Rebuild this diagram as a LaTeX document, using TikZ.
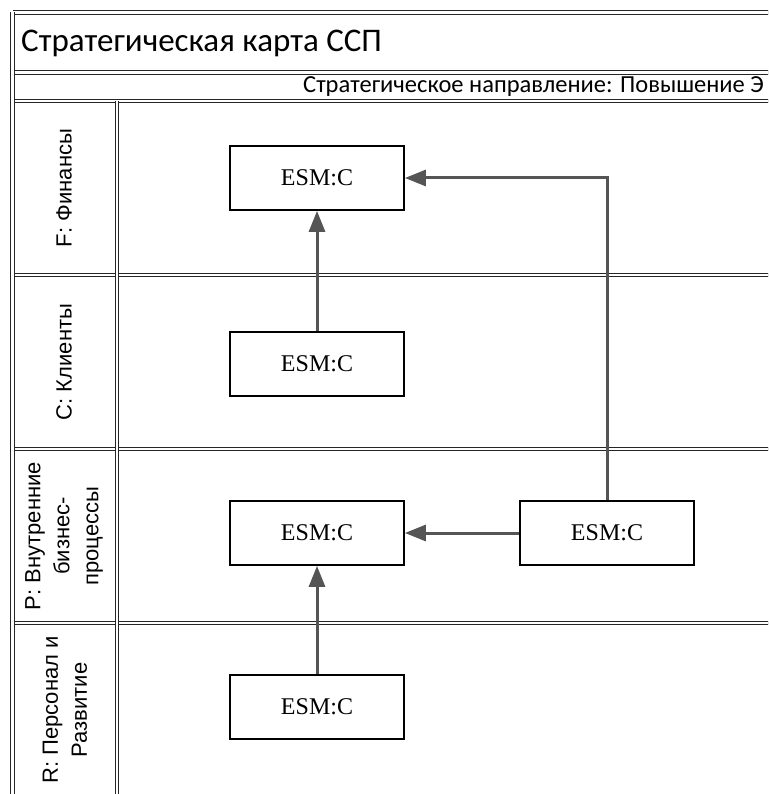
\documentclass[tikz,border=0pt]{standalone}
\usepackage{fontspec}
\setmainfont{Liberation Serif}
\newfontfamily\titlefont{Carlito}
\newfontfamily\lanefont{Liberation Sans}
\usetikzlibrary{arrows.meta}
\definecolor{arrowgray}{HTML}{555555}
\begin{document}
\begin{tikzpicture}[x=1pt,y=-1pt,
  frameline/.style={draw=black!85,line width=1.1pt,double=white,double distance=2.2pt},
  esmbox/.style={draw=black,line width=1.8pt,fill=white,minimum width=174pt,minimum height=64pt,inner sep=0pt,font=\fontsize{24}{28}\selectfont},
  lanelabel/.style={rotate=90,align=center,font=\lanefont\fontsize{22}{29}\selectfont},
  link/.style={draw=arrowgray,line width=3pt,-{Triangle[length=21pt,width=16pt]}}]
\useasboundingbox (0,0) rectangle (768,794);
\clip (0,0) rectangle (768,794);
% frame
\draw[frameline] (12.5,12.5) -- (900,12.5);
\draw[frameline] (12.5,72.5) -- (900,72.5);
\draw[frameline] (12.5,101) -- (900,101);
\draw[frameline] (12.5,275) -- (900,275);
\draw[frameline] (12.5,449) -- (900,449);
\draw[frameline] (12.5,623) -- (900,623);
\draw[frameline] (12.5,12.5) -- (12.5,820);
\draw[frameline] (117,101) -- (117,820);
% titles
\node[anchor=west,inner sep=0pt,font=\titlefont\fontsize{33}{38}\selectfont] (title) at (21,43) {Стратегическая карта ССП};
\node[anchor=west,inner sep=0pt,font=\titlefont\fontsize{24.5}{28}\selectfont] (sub) at (303,86.5) {Стратегическое направление: Повышение Э};
% lane labels
\node[lanelabel] (lF) at (64,188) {F: Финансы};
\node[lanelabel] (lC) at (64,362) {C: Клиенты};
\node[lanelabel] (lP) at (64,536) {P: Внутренние\\бизнес-\\процессы};
\node[lanelabel] (lR) at (65,710) {R: Персонал и\\Развитие};
% boxes
\node[esmbox] (b1) at (317,178) {ESM:C};
\node[esmbox] (b2) at (317,364) {ESM:C};
\node[esmbox] (b3) at (317,533) {ESM:C};
\node[esmbox] (b4) at (607,533) {ESM:C};
\node[esmbox] (b5) at (317,707) {ESM:C};
% connectors
\draw[link] (b2.north) -- (b1.south);
\draw[link] (b4.north) |- (b1.east);
\draw[link] (b4.west) -- (b3.east);
\draw[link] (b5.north) -- (b3.south);
\end{tikzpicture}
\end{document}
